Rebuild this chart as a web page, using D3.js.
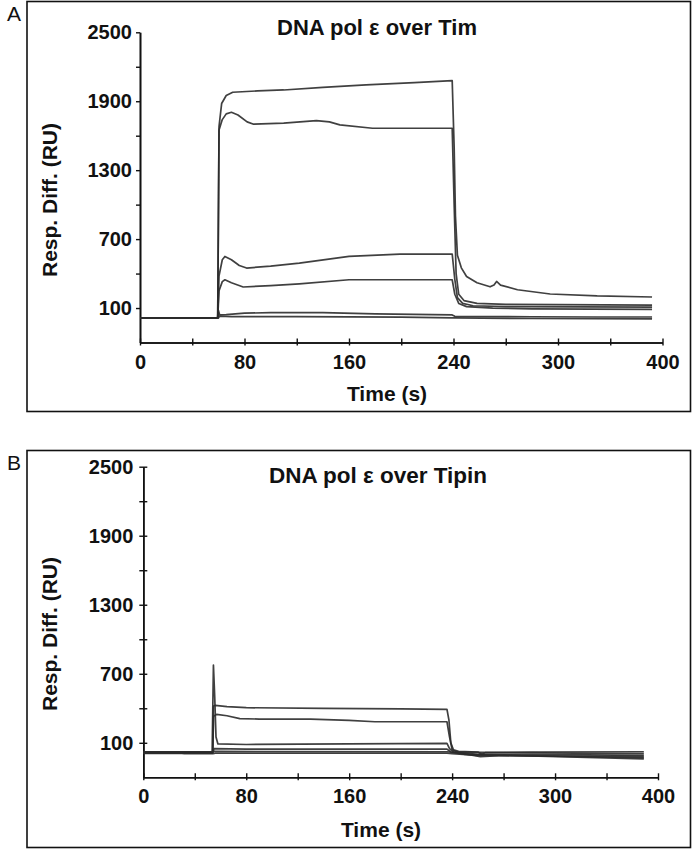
<!DOCTYPE html>
<html>
<head>
<meta charset="utf-8">
<script src="https://cdn.jsdelivr.net/npm/d3@7"></script>
<style>
html,body{margin:0;padding:0;background:#fff;}
svg{display:block;}
text{font-family:"Liberation Sans",Arial,sans-serif;fill:#111;}
</style>
</head>
<body>
<svg id="chart" width="693" height="849"></svg>
<script>
// ---------- data ----------
const xTickValues = [0, 80, 160, 240, 320, 400];
const xTickLabels = ["0", "80", "160", "240", "300", "400"];
const xMinorTicks = [40, 120, 200, 280, 360];
const yTickValues = [100, 700, 1300, 1900, 2500];
const yTickLabels = ["100", "700", "1300", "1900", "2500"];
const yMinorTicks = [400, 1000, 1600, 2200];

const titleA = "DNA pol \u03b5 over Tim";
const titleB = "DNA pol \u03b5 over Tipin";
const yTitle = "Resp. Diff. (RU)";
const xTitle = "Time (s)";

// Panel A sensorgrams [time, response]
const curveA1 = [[0,15],[59.5,15],[60.5,1680],[62.5,1880],[66,1950],[71,1978],[90,1990],[110,1998],[140,2020],[173,2042],[210,2062],[239,2080],[240.5,1500],[241.5,900],[243,560],[246,450],[250,375],[258,320],[268,285],[271,300],[273,331],[276,300],[289,259],[314,222],[350,205],[392,196]];
const curveA2 = [[0,15],[59.5,15],[60.5,1650],[63,1740],[66,1790],[70,1804],[75,1780],[82,1720],[87,1700],[110,1709],[135,1731],[145,1720],[153,1694],[178,1665],[239,1665],[240.5,1000],[242,400],[244,220],[248,165],[258,140],[280,132],[392,125]];
const curveA3 = [[0,15],[59.5,15],[60.5,380],[63,520],[65,549],[70,520],[76,470],[81.6,448],[100,465],[122,491],[160,549],[199,570],[239,570],[241,350],[243,190],[247,140],[255,120],[280,112],[392,108]];
const curveA4 = [[0,15],[59.5,15],[60.5,250],[63,330],[65,346],[70,320],[79,283],[100,295],[122,311],[160,346],[239,346],[241,220],[244,140],[250,112],[270,100],[300,92],[392,88]];
const curveA5 = [[0,15],[59.5,15],[60,80],[61,40],[66,42],[80,55],[100,60],[140,60],[180,50],[239,40],[241,28],[300,24],[350,22],[392,22]];
const curveA6 = [[0,12],[60,12],[61,30],[70,26],[120,25],[200,20],[240,14],[300,9],[392,5]];

// Panel B sensorgrams [time, response]
const curveB1 = [[0,20],[54,20],[54.6,420],[56,425],[65,415],[80,405],[140,400],[200,395],[236,390],[237.5,300],[239,100],[241,40],[245,25],[260,20],[263,0],[266,15],[300,20],[389,22]];
const curveB2 = [[0,20],[54,20],[54.6,330],[57,347],[65,335],[75,310],[90,306],[130,306],[160,295],[180,283],[236,283],[238,150],[240,40],[245,15],[260,0],[300,0],[389,-10]];
const curveB3 = [[0,15],[53.5,15],[54.5,775],[55.5,500],[56.5,150],[58,90],[80,85],[160,90],[236,95],[238,50],[241,20],[262,-20],[280,-10],[389,-30]];
const curveB4 = [[0,10],[54,10],[55,50],[80,45],[236,45],[239,20],[250,0],[300,-15],[389,-40]];
const curveB5 = [[0,22],[54,22],[55,25],[236,22],[240,18],[389,5]];
const curveB6 = [[0,8],[30,8],[32,5],[54,5],[56,10],[236,10],[240,5],[260,-10],[389,-20]];

const yDomain = [-200, 2500];
const xDomain = [0, 400];

// ---------- drawing ----------
const svg = d3.select("#chart");

function drawPanel(cfg) {
  const g = svg.append("g");
  g.append("rect")
    .attr("x", cfg.frame[0]).attr("y", cfg.frame[1])
    .attr("width", cfg.frame[2] - cfg.frame[0]).attr("height", cfg.frame[3] - cfg.frame[1])
    .attr("fill", "none").attr("stroke", "#111").attr("stroke-width", 1.6);
  g.append("text").attr("x", cfg.letterPos[0]).attr("y", cfg.letterPos[1])
    .attr("font-size", 21).text(cfg.letter);

  const x = d3.scaleLinear().domain(xDomain).range(cfg.xRange);
  const y = d3.scaleLinear().domain(yDomain).range(cfg.yRange);

  const yAxis = d3.axisLeft(y).tickValues(yTickValues)
    .tickFormat((d, i) => yTickLabels[i]).tickSizeInner(cfg.tick).tickSizeOuter(0).tickPadding(cfg.yPad);
  const ya = g.append("g").attr("transform", `translate(${cfg.xRange[0]},0)`).call(yAxis);
  const yMinor = d3.axisLeft(y).tickValues(yMinorTicks).tickFormat("").tickSizeInner(cfg.tick).tickSizeOuter(0);
  const ym = g.append("g").attr("transform", `translate(${cfg.xRange[0]},0)`).call(yMinor);
  [ya, ym].forEach(a => {
    a.select(".domain").attr("stroke", "#111").attr("stroke-width", 1.6);
    a.selectAll(".tick line").attr("x1", cfg.tickIn).attr("stroke", "#111").attr("stroke-width", 1.4);
  });
  ya.selectAll(".tick text").attr("font-size", cfg.fs).attr("font-weight", "bold")
    .attr("font-family", "Liberation Sans, Arial, sans-serif").attr("fill", "#111");

  const xAxis = d3.axisBottom(x).tickValues(xTickValues)
    .tickFormat((d, i) => xTickLabels[i]).tickSizeInner(3).tickSizeOuter(0).tickPadding(cfg.xPad);
  const xa = g.append("g").attr("transform", `translate(0,${cfg.yRange[0]})`).call(xAxis);
  const xMinor = d3.axisBottom(x).tickValues(xMinorTicks).tickFormat("").tickSizeInner(3).tickSizeOuter(0);
  const xm = g.append("g").attr("transform", `translate(0,${cfg.yRange[0]})`).call(xMinor);
  [xa, xm].forEach(a => {
    a.select(".domain").attr("stroke", "#111").attr("stroke-width", 1.6);
    a.selectAll(".tick line").attr("y1", -4).attr("stroke", "#111").attr("stroke-width", 1.4);
  });
  xa.selectAll(".tick text").attr("font-size", cfg.fs).attr("font-weight", "bold")
    .attr("font-family", "Liberation Sans, Arial, sans-serif").attr("fill", "#111");

  g.append("text").attr("x", cfg.titlePos[0]).attr("y", cfg.titlePos[1])
    .attr("text-anchor", "middle").attr("font-size", cfg.titleFs).attr("font-weight", "bold").text(cfg.title);
  g.append("text").attr("transform", `translate(${cfg.yTitlePos[0]},${cfg.yTitlePos[1]}) rotate(-90)`)
    .attr("text-anchor", "middle").attr("font-size", 21).attr("font-weight", "bold").text(yTitle);
  g.append("text").attr("x", cfg.xTitlePos[0]).attr("y", cfg.xTitlePos[1])
    .attr("text-anchor", "middle").attr("font-size", 21).attr("font-weight", "bold").text(xTitle);

  const line = d3.line().x(d => x(d[0])).y(d => y(d[1]));
  g.append("g").selectAll("path").data(cfg.curves).join("path")
    .attr("d", line).attr("fill", "none")
    .attr("stroke", "#2b2b2b").attr("stroke-width", 1.7)
    .attr("stroke-linejoin", "round").attr("opacity", 0.9);
}

drawPanel({
  letter: "A", letterPos: [7, 21],
  frame: [27, 1.5, 690.5, 411.5],
  xRange: [140, 662.5], yRange: [342.5, 32.3],
  tick: 4, tickIn: 0, yPad: 4, xPad: 9, fs: 20, titleFs: 22,
  title: titleA, titlePos: [377, 35],
  yTitlePos: [57, 200], xTitlePos: [387, 401],
  curves: [curveA1, curveA2, curveA3, curveA4, curveA5, curveA6]
});

drawPanel({
  letter: "B", letterPos: [7, 470],
  frame: [27, 450.5, 690.5, 847.5],
  xRange: [143.3, 658], yRange: [777.3, 466.7],
  tick: 4, tickIn: 4, yPad: 6, xPad: 9, fs: 20, titleFs: 22.5,
  title: titleB, titlePos: [378, 483],
  yTitlePos: [57, 634], xTitlePos: [381, 837],
  curves: [curveB1, curveB2, curveB3, curveB4, curveB5, curveB6]
});
</script>
</body>
</html>
